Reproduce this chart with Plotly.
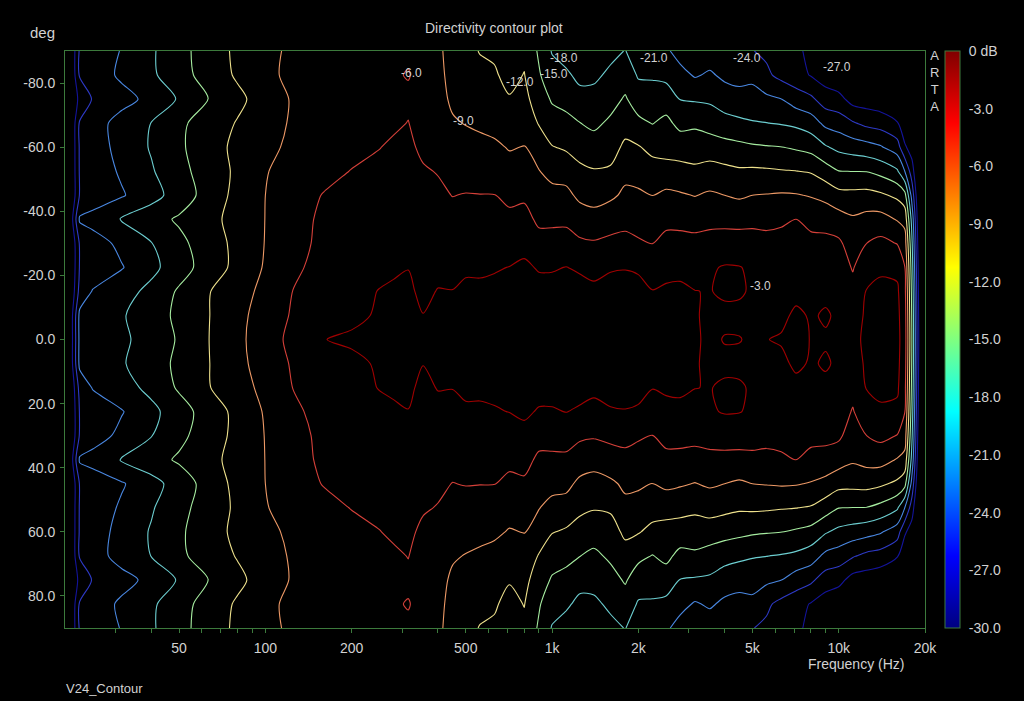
import math
import plotly.graph_objects as go

# ---------------- data ----------------
freqs_hz = [20, 22.5, 25, 31.5, 40, 50, 63, 80, 100, 125,
            160, 200, 250, 280, 315, 355, 400, 450, 500, 560,
            630, 710, 800, 900, 1000, 1120, 1250, 1400, 1600, 1800,
            2000, 2240, 2500, 2800, 3150, 3550, 4000, 4500, 5000, 5600,
            6300, 7100, 8000, 9000, 10000, 11200, 12500, 14000, 16000, 17000,
            18000, 19000, 20000]

angles_half_deg = [0, 7.5, 15, 22.5, 30, 37.5, 45, 52.5, 60, 67.5, 75, 82.5, 90]

resp_0 = [-34, -20.3, -19.9, -18.6, -16.7, -14.7, -12.1, -9.7, -7.4, -5.2,
          -3.05, -2.6, -2.4, -2.3, -2.2, -2.3, -2.2, -2.2, -2.1, -2.0,
          -1.9, -1.9, -1.8, -1.7, -1.6, -1.6, -1.6, -1.6, -1.6, -1.6,
          -1.6, -1.5, -1.5, -1.5, -2.6, -3.6, -2.85, -2.9, -3.4, -3.05,
          -2.8, -2.2, -3.1, -3.2, -3.3, -3.4, -2.7, -2.4, -2.3, -4.3,
          -15, -26.8, -34]
resp_7_5 = [-34, -20.3, -19.8, -18.3, -16.3, -14.4, -12.15, -9.9, -7.55, -5.7,
            -4.67, -3.6, -2.7, -2.5, -2.4, -2.95, -2.5, -2.5, -2.3, -2.2,
            -2.1, -2.1, -2.0, -1.9, -1.8, -1.8, -1.8, -1.8, -1.8, -1.8,
            -1.8, -1.8, -1.7, -1.7, -2.7, -3.7, -3.6, -3.6, -3.6, -3.6,
            -3.5, -2.6, -3.2, -2.8, -3.3, -3.6, -2.8, -2.5, -2.4, -4.5,
            -15.3, -27, -34]
resp_15 = [-34, -23.0, -20.8, -19.2, -17.2, -14.6, -12.2, -10.2, -8.2, -5.95,
           -4.86, -3.9, -2.9, -2.7, -2.6, -3.5, -2.9, -2.95, -2.6, -2.5,
           -2.4, -2.4, -2.2, -2.2, -2.2, -2.1, -2.2, -2.4, -2.2, -2.2,
           -2.3, -2.9, -2.6, -2.5, -2.95, -3.1, -2.6, -2.7, -3.3, -3.7,
           -3.8, -3.6, -3.7, -3.4, -3.6, -5.0, -2.9, -2.7, -2.6, -5.0,
           -15.8, -27.3, -34]
resp_22_5 = [-34, -23.8, -23.0, -21.2, -18.8, -16.3, -13.7, -11.15, -8.7, -6.4,
             -5.27, -4.5, -3.7, -3.3, -3.05, -3.9, -3.6, -3.6, -3.3, -3.4,
             -3.2, -2.95, -2.6, -3.2, -3.2, -2.95, -3.3, -3.8, -3.2, -3.1,
             -3.3, -4.4, -3.8, -3.7, -3.9, -3.3, -2.8, -2.9, -3.4, -3.8,
             -4.0, -4.0, -4.1, -4.1, -4.4, -6.24, -3.75, -3.2, -3.6, -5.9,
             -16.5, -27.8, -34]
resp_30 = [-34, -23.7, -22.5, -20.2, -18.1, -15.75, -13.5, -11.2, -8.9, -6.7,
           -5.5, -4.8, -4.3, -4.0, -3.9, -4.4, -4.3, -4.4, -4.3, -4.3,
           -4.2, -4.3, -3.7, -4.9, -4.9, -4.8, -5.5, -5.7, -5.3, -5.1,
           -5.6, -6.02, -5.2, -5.1, -5.3, -5.0, -4.77, -4.76, -4.9, -5.14,
           -5.1, -5.0, -5.24, -5.27, -5.5, -7.4, -6.02, -5.25, -6.1, -7.5,
           -17.5, -28.5, -34]
resp_37_5 = [-34, -20.6, -19.8, -17.8, -16.15, -14.6, -12.9, -11.0, -8.96, -6.8,
             -5.6, -5.1, -4.7, -4.5, -4.4, -4.9, -5.0, -5.2, -5.1, -5.1,
             -5.0, -5.4, -5.0, -6.6, -6.6, -6.6, -7.6, -8.0, -7.3, -6.9,
             -7.3, -7.6, -6.7, -6.8, -6.9, -6.75, -6.8, -6.9, -6.7, -6.76,
             -6.45, -5.95, -6.8, -7.0, -7.7, -8.6, -8.05, -7.9, -9.2, -10,
             -19, -29.2, -34]
resp_45 = [-34, -23.8, -23.0, -21.3, -19.1, -16.65, -13.85, -11.1, -9.0, -7.4,
           -5.85, -5.4, -5.1, -4.9, -4.8, -5.3, -5.6, -6.05, -5.9, -5.95,
           -5.95, -6.6, -6.5, -7.9, -8.1, -8.3, -9.6, -10.0, -9.5, -8.5,
           -8.6, -9.05, -8.4, -8.7, -9.1, -8.6, -9.0, -9.4, -9.0, -8.86,
           -8.7, -8.8, -9.2, -9.9, -11.0, -11.1, -11.0, -11.5, -12.6, -14,
           -22, -30, -34]
resp_52_5 = [-34, -23.7, -22.75, -20.6, -18.3, -15.9, -13.7, -11.45, -9.15, -8.0,
             -6.9, -5.9, -5.5, -5.3, -5.2, -5.8, -6.1, -6.9, -7.0, -7.0,
             -7.1, -7.9, -7.7, -8.9, -9.9, -10.1, -11.4, -11.8, -11.6, -9.7,
             -10.0, -10.8, -10.8, -11.0, -11.5, -10.9, -11.25, -11.6, -11.5, -11.6,
             -11.8, -11.95, -12.25, -13.6, -14.95, -15.05, -15.1, -15.9, -17.6, -21,
             -25.5, -31, -34]
resp_60 = [-34, -23.65, -22.5, -20.0, -17.75, -15.5, -13.3, -11.3, -9.6, -8.5,
           -7.7, -6.9, -6.05, -5.7, -5.6, -6.4, -6.9, -7.8, -8.1, -8.2,
           -8.5, -9.2, -8.9, -10.2, -11.85, -12.4, -13.1, -13.7, -13.2, -11.4,
           -11.8, -12.8, -13.2, -13.4, -13.2, -13.5, -13.9, -14.25, -14.6, -14.8,
           -14.95, -15.4, -16.0, -17.7, -18.75, -19.4, -19.9, -20.7, -22.6, -26.5,
           -28.5, -32, -34]
resp_67_5 = [-34, -23.7, -22.3, -19.9, -17.95, -15.6, -13.65, -11.8, -10.0, -8.7,
             -7.9, -7.1, -6.6, -6.3, -5.95, -6.8, -7.6, -8.75, -9.1, -9.5,
             -9.9, -10.7, -10.0, -12.2, -13.8, -14.3, -14.95, -15.6, -14.5, -13.2,
             -14.3, -15.1, -14.3, -15.8, -15.6, -16.2, -16.9, -17.4, -17.8, -17.95,
             -18.2, -18.6, -19.5, -21.75, -22.4, -23.7, -24.75, -25.25, -26.8, -29.5,
             -31, -33, -34]
resp_75 = [-34, -25.9, -23.8, -22.0, -20.2, -17.7, -15.1, -12.7, -10.6, -8.7,
           -7.9, -7.3, -6.8, -6.5, -6.35, -7.0, -8.2, -9.4, -10.0, -10.5,
           -11.0, -11.8, -11.1, -13.6, -15.3, -15.8, -16.8, -17.0, -16.0, -14.7,
           -16.5, -16.9, -16.4, -18.1, -18.3, -18.5, -19.5, -19.9, -19.75, -20.4,
           -20.95, -22.5, -23.4, -25.5, -26.0, -28.2, -28.5, -29, -29, -30,
           -32.5, -33, -34]
resp_82_5 = [-34, -23.7, -22.6, -20.5, -18.5, -16.2, -13.8, -11.6, -9.7, -8.3,
             -7.6, -7.0, -6.5, -6.2, -5.9, -6.6, -8.5, -9.6, -10.8, -11.4,
             -11.7, -12.8, -11.9, -14.7, -16.8, -17.4, -18.9, -18.6, -17.4, -16.3,
             -18.3, -18.3, -18.8, -20.0, -21.3, -20.6, -21.6, -22.0, -21.8, -23.4,
             -24.9, -25.8, -27.2, -28.5, -29.5, -30.5, -30.5, -30.5, -30.5, -31,
             -33, -33.5, -34]
resp_90 = [-34, -23.6, -22.9, -20.85, -18.4, -16.0, -13.6, -11.4, -9.7, -8.5,
           -7.8, -7.2, -6.8, -6.5, -6.3, -6.8, -8.7, -9.6, -11.3, -12.1,
           -12.4, -13.5, -12.6, -15.4, -18.2, -19.5, -20.5, -20.0, -18.8, -17.9,
           -19.6, -19.5, -20.5, -22.2, -23.3, -22.6, -23.4, -23.8, -23.9, -24.6,
           -25.8, -26.5, -27.6, -30, -31, -32, -32, -31.5, -31, -31.5,
           -33.5, -33.5, -34]

half_rows = [resp_0, resp_7_5, resp_15, resp_22_5, resp_30, resp_37_5, resp_45,
             resp_52_5, resp_60, resp_67_5, resp_75, resp_82_5, resp_90]

contour_levels = [-27, -24, -21, -18, -15, -12, -9, -6, -3]

x_tick_labels = {50: "50", 100: "100", 200: "200", 500: "500", 1000: "1k",
                 2000: "2k", 5000: "5k", 10000: "10k", 20000: "20k"}
y_tick_vals = [-80, -60, -40, -20, 0, 20, 40, 60, 80]
y_tick_text = ["-80.0", "-60.0", "-40.0", "-20.0", "0.0", "20.0", "40.0", "60.0", "80.0"]
cbar_vals = [0, -3, -6, -9, -12, -15, -18, -21, -24, -27, -30]
cbar_text = ["0 dB", "-3.0", "-6.0", "-9.0", "-12.0", "-15.0", "-18.0",
             "-21.0", "-24.0", "-27.0", "-30.0"]

# contour labels: (text, frequency Hz, angle deg)
level_labels = [("-6.0", 324, -83.1), ("-9.0", 491, -68.2), ("-12.0", 770, -80.4),
                ("-15.0", 1019, -82.7), ("-18.0", 1104, -87.7), ("-21.0", 2274, -87.7),
                ("-24.0", 4796, -87.7), ("-27.0", 9872, -85.1), ("-3.0", 5323, -16.8)]

# ---------------- build the symmetric (mirrored) grid ----------------
angles_full = [-a for a in reversed(angles_half_deg[1:])] + angles_half_deg
z_full = [r for r in reversed(half_rows[1:])] + half_rows

# colour bar: classic jet
jet = [[0.0, "rgb(0,0,128)"], [0.125, "rgb(0,0,255)"], [0.375, "rgb(0,255,255)"],
       [0.625, "rgb(255,255,0)"], [0.875, "rgb(255,0,0)"], [1.0, "rgb(128,0,0)"]]
# contour lines: the softer tones the reference draws its lines with
line_scale = [[0.0, "#14149c"], [0.1, "#2a2ac0"], [0.2, "#3868dc"], [0.3, "#5aa6e6"],
              [0.4, "#72dcc8"], [0.5, "#a6eca0"], [0.6, "#ecec92"], [0.7, "#f2c27a"],
              [0.8, "#e87052"], [0.9, "#cf3030"], [1.0, "#a00000"]]

TXT = "#d2d2d2"
FRAME = "#3c7a3c"
FONT = "Liberation Sans, Arial, sans-serif"

fig = go.Figure()
fig.add_trace(go.Contour(
    x=freqs_hz, y=angles_full, z=z_full,
    zmin=-30, zmax=0, colorscale=line_scale, autocontour=False,
    contours=dict(start=contour_levels[0], end=contour_levels[-1], size=3,
                  coloring="lines", showlabels=False),
    line=dict(width=1.1, smoothing=0.8),
    showscale=False, hoverinfo="skip"))

# continuous colour bar
fig.add_trace(go.Scatter(
    x=[None], y=[None], mode="markers", showlegend=False, hoverinfo="skip",
    marker=dict(color=[-30], colorscale=jet, cmin=-30, cmax=0, showscale=True,
                colorbar=dict(x=1.0233, xanchor="left", xpad=0, y=0.5, yanchor="middle",
                              len=1, lenmode="fraction", ypad=0, thickness=15,
                              outlinecolor=FRAME, outlinewidth=1,
                              tickmode="array", tickvals=cbar_vals, ticktext=cbar_text,
                              ticks="outside", ticklen=6, tickcolor="rgba(0,0,0,0)",
                              tickfont=dict(family=FONT, size=14, color=TXT)))))

# x ticks: 1-2-..-9 per decade, labelled only at the named ones
xt_vals, xt_text = [], []
for e in range(1, 5):
    for m in range(1, 10):
        v = m * 10 ** e
        if freqs_hz[0] < v <= freqs_hz[-1]:
            xt_vals.append(v)
            xt_text.append(x_tick_labels.get(v, ""))

fig.update_xaxes(type="log", range=[math.log10(freqs_hz[0]), math.log10(freqs_hz[-1])],
                 tickmode="array", tickvals=xt_vals, ticktext=xt_text,
                 ticks="outside", ticklen=4, tickcolor=FRAME, ticklabelstandoff=3,
                 showgrid=False, zeroline=False, showline=True, mirror=True,
                 linecolor=FRAME, linewidth=1,
                 tickfont=dict(family=FONT, size=14, color=TXT))
fig.update_yaxes(range=[90, -90], tickmode="array", tickvals=y_tick_vals, ticktext=y_tick_text,
                 ticks="outside", ticklen=4, tickcolor=FRAME, ticklabelstandoff=2,
                 showgrid=False, zeroline=False, showline=True, mirror=True,
                 linecolor=FRAME, linewidth=1,
                 tickfont=dict(family=FONT, size=14, color=TXT))

annotations = []
for text, f, a in level_labels:
    annotations.append(dict(x=math.log10(f), y=a, xref="x", yref="y", text=text,
                            showarrow=False, xanchor="center", yanchor="middle",
                            font=dict(family=FONT, size=12, color=TXT)))
annotations += [
    dict(x=0.4988, y=1.0399, xref="paper", yref="paper", text="Directivity contour plot",
         xanchor="center", yanchor="middle", showarrow=False,
         font=dict(family=FONT, size=14, color=TXT)),
    dict(x=-0.0256, y=1.0312, xref="paper", yref="paper", text="deg",
         xanchor="center", yanchor="middle", showarrow=False,
         font=dict(family=FONT, size=15, color=TXT)),
    dict(x=0.9198, y=-0.0624, xref="paper", yref="paper", text="Frequency (Hz)",
         xanchor="center", yanchor="middle", showarrow=False,
         font=dict(family=FONT, size=14, color=TXT)),
    dict(x=-0.001, y=-0.1057, xref="paper", yref="paper", text="V24_Contour",
         xanchor="left", yanchor="middle", showarrow=False,
         font=dict(family=FONT, size=13, color=TXT)),
    dict(x=1.0105, y=1.008, xref="paper", yref="paper", text="A<br>R<br>T<br>A",
         xanchor="center", yanchor="top", showarrow=False,
         font=dict(family=FONT, size=13, color=TXT)),
]

fig.update_layout(width=1024, height=701, margin=dict(l=65, r=99, t=51, b=73),
                  paper_bgcolor="black", plot_bgcolor="black", showlegend=False,
                  font=dict(family=FONT, size=14, color=TXT), annotations=annotations)

fig.write_html("out.html", config={"displayModeBar": False},
               post_script="document.body.style.margin='0';document.body.style.background='black';document.body.style.overflow='hidden';")
